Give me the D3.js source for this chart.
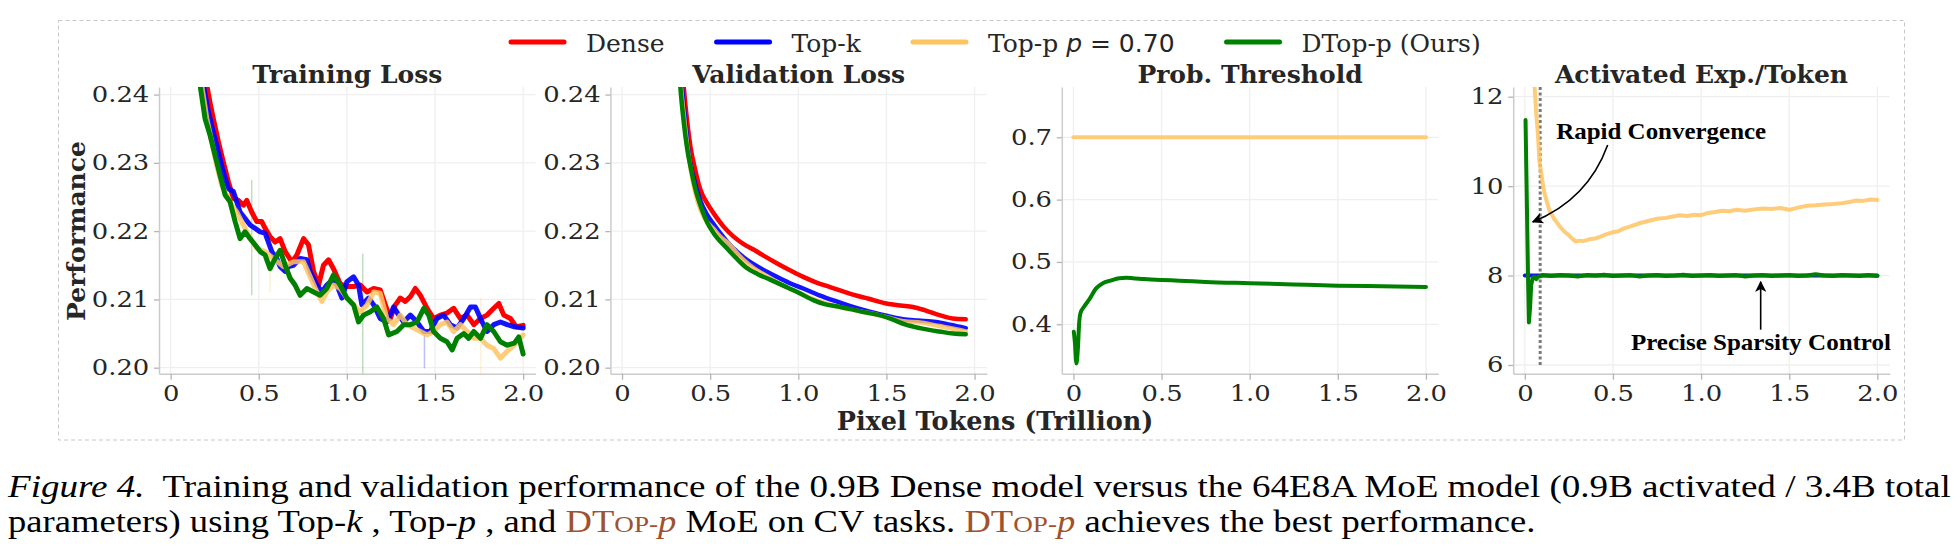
<!DOCTYPE html>
<html>
<head>
<meta charset="utf-8">
<script src="https://cdn.jsdelivr.net/npm/d3@7/dist/d3.min.js"></script>
<style>
  body { margin: 0; background: #fff; }
  svg text { font-family: "DejaVu Serif", serif; fill: #262626; }
  .caption, .caption tspan { font-family: "Liberation Serif", "Times New Roman", serif; }
  .annot { font-family: "Liberation Serif", "Times New Roman", serif; font-weight: bold; }
  .tick text { font-family: "DejaVu Serif", serif; }
</style>
</head>
<body>
<svg id="chart" width="1960" height="552"></svg>
<script>
// ---- data (x in trillion pixel tokens) ----
const xTicks = [0, 0.5, 1.0, 1.5, 2.0];
const lossTicks = [0.20, 0.21, 0.22, 0.23, 0.24];
const threshTicks = [0.4, 0.5, 0.6, 0.7];
const expTicks = [6, 8, 10, 12];
const seriesNames = ["Dense", "Top-k", "Top-p", "DTop-p"];
const panelTitles = ["Training Loss", "Validation Loss", "Prob. Threshold", "Activated Exp./Token"];

const trainDense = [[0.205,0.2414],[0.223,0.2389],[0.242,0.2365],[0.271,0.2331],[0.299,0.2301],[0.328,0.2272],[0.356,0.2248],[0.384,0.2245],[0.413,0.2238],[0.432,0.2245],[0.460,0.2228],[0.489,0.2214],[0.517,0.2214],[0.536,0.2204],[0.564,0.2192],[0.593,0.2184],[0.621,0.2189],[0.650,0.2170],[0.688,0.2155],[0.716,0.2165],[0.754,0.2189],[0.782,0.2180],[0.811,0.2141],[0.839,0.2121],[0.867,0.2150],[0.896,0.2158],[0.924,0.2145],[0.962,0.2123],[1.000,0.2119],[1.038,0.2119],[1.076,0.2121],[1.114,0.2111],[1.152,0.2116],[1.189,0.2114],[1.218,0.2092],[1.246,0.2072],[1.275,0.2092],[1.303,0.2102],[1.331,0.2097],[1.360,0.2104],[1.388,0.2116],[1.417,0.2106],[1.455,0.2087],[1.492,0.2072],[1.530,0.2077],[1.568,0.2080],[1.606,0.2087],[1.644,0.2072],[1.682,0.2077],[1.720,0.2063],[1.758,0.2072],[1.795,0.2077],[1.833,0.2087],[1.862,0.2094],[1.890,0.2077],[1.928,0.2072],[1.960,0.2060],[2.000,0.2062]];
const trainTopK = [[0.186,0.2414],[0.214,0.2375],[0.242,0.2345],[0.271,0.2316],[0.299,0.2287],[0.328,0.2262],[0.356,0.2258],[0.394,0.2228],[0.451,0.2209],[0.508,0.2199],[0.536,0.2197],[0.574,0.2170],[0.602,0.2160],[0.621,0.2148],[0.650,0.2141],[0.669,0.2148],[0.697,0.2150],[0.735,0.2160],[0.773,0.2158],[0.792,0.2141],[0.830,0.2121],[0.858,0.2111],[0.886,0.2121],[0.915,0.2128],[0.943,0.2121],[0.972,0.2102],[1.000,0.2126],[1.038,0.2133],[1.066,0.2121],[1.085,0.2092],[1.123,0.2102],[1.152,0.2092],[1.189,0.2072],[1.227,0.2067],[1.265,0.2089],[1.294,0.2077],[1.322,0.2067],[1.360,0.2077],[1.398,0.2067],[1.436,0.2053],[1.473,0.2053],[1.511,0.2072],[1.549,0.2077],[1.587,0.2063],[1.625,0.2058],[1.663,0.2072],[1.701,0.2089],[1.729,0.2089],[1.758,0.2072],[1.795,0.2053],[1.833,0.2063],[1.871,0.2067],[1.909,0.2063],[1.950,0.2060],[2.000,0.2058]];
const trainTopP = [[0.176,0.2414],[0.205,0.2365],[0.233,0.2331],[0.261,0.2297],[0.290,0.2267],[0.318,0.2253],[0.347,0.2238],[0.375,0.2228],[0.413,0.2209],[0.451,0.2189],[0.489,0.2175],[0.536,0.2170],[0.583,0.2160],[0.640,0.2148],[0.697,0.2155],[0.754,0.2155],[0.792,0.2133],[0.830,0.2111],[0.858,0.2097],[0.886,0.2111],[0.924,0.2121],[0.962,0.2116],[1.000,0.2102],[1.038,0.2092],[1.076,0.2082],[1.114,0.2092],[1.152,0.2111],[1.189,0.2109],[1.227,0.2072],[1.265,0.2063],[1.303,0.2077],[1.341,0.2063],[1.379,0.2058],[1.417,0.2053],[1.455,0.2048],[1.492,0.2053],[1.530,0.2063],[1.568,0.2067],[1.606,0.2053],[1.644,0.2063],[1.682,0.2053],[1.720,0.2043],[1.758,0.2043],[1.795,0.2033],[1.833,0.2028],[1.871,0.2014],[1.909,0.2024],[1.950,0.2033],[2.000,0.2048]];
const trainDTopP = [[0.167,0.2414],[0.195,0.2365],[0.223,0.2341],[0.252,0.2311],[0.280,0.2282],[0.309,0.2253],[0.337,0.2243],[0.366,0.2214],[0.394,0.2189],[0.422,0.2199],[0.451,0.2189],[0.479,0.2180],[0.508,0.2170],[0.536,0.2165],[0.564,0.2145],[0.593,0.2160],[0.621,0.2172],[0.650,0.2150],[0.678,0.2131],[0.706,0.2121],[0.735,0.2106],[0.773,0.2116],[0.811,0.2111],[0.848,0.2106],[0.886,0.2116],[0.924,0.2136],[0.962,0.2121],[1.000,0.2102],[1.038,0.2092],[1.066,0.2067],[1.095,0.2077],[1.133,0.2082],[1.170,0.2089],[1.208,0.2072],[1.237,0.2048],[1.284,0.2053],[1.322,0.2063],[1.360,0.2063],[1.398,0.2067],[1.436,0.2087],[1.464,0.2077],[1.492,0.2053],[1.530,0.2043],[1.568,0.2038],[1.597,0.2026],[1.625,0.2043],[1.663,0.2050],[1.691,0.2043],[1.720,0.2053],[1.758,0.2043],[1.795,0.2063],[1.833,0.2053],[1.871,0.2038],[1.909,0.2033],[1.950,0.2036],[1.975,0.2045],[2.000,0.2020]];
// faint raw spikes: [series, x, low, high]
const trainSpikes = [["DTop-p",0.46,0.2106,0.2275],["Top-p",0.564,0.2111,0.2218],["DTop-p",1.09,0.1989,0.2167],["Top-k",1.44,0.1999,0.2048],["Top-p",1.76,0.1989,0.2102]];

const valDense = [[0.30,0.262],[0.35,0.2411],[0.37,0.236],[0.388,0.2324],[0.415,0.2290],[0.444,0.2261],[0.48,0.2242],[0.52,0.2226],[0.575,0.2207],[0.633,0.2192],[0.69,0.2181],[0.746,0.2173],[0.81,0.2163],[0.878,0.2153],[0.95,0.2143],[1.028,0.2133],[1.10,0.2125],[1.18,0.2118],[1.25,0.2112],[1.31,0.2107],[1.40,0.2101],[1.50,0.2094],[1.58,0.2091],[1.65,0.2089],[1.72,0.2084],[1.80,0.2077],[1.876,0.2072],[1.95,0.2071]];
const valTopK = [[0.30,0.262],[0.34,0.2411],[0.36,0.236],[0.38,0.231],[0.41,0.2275],[0.444,0.2245],[0.48,0.2225],[0.52,0.2210],[0.557,0.2197],[0.63,0.2175],[0.708,0.2158],[0.79,0.2145],[0.878,0.2133],[0.95,0.2124],[1.028,0.2116],[1.12,0.2106],[1.217,0.2097],[1.31,0.2089],[1.405,0.2082],[1.50,0.2076],[1.594,0.2071],[1.68,0.2069],[1.78,0.2067],[1.86,0.2063],[1.95,0.2058]];
const valTopP = [[0.29,0.262],[0.335,0.2411],[0.355,0.236],[0.375,0.2315],[0.40,0.2275],[0.43,0.2242],[0.47,0.2218],[0.52,0.2203],[0.557,0.2192],[0.60,0.2183],[0.68,0.2160],[0.75,0.2145],[0.83,0.2133],[0.90,0.2122],[1.0,0.2110],[1.1,0.2099],[1.2,0.2091],[1.3,0.2085],[1.4,0.2080],[1.5,0.2074],[1.6,0.2068],[1.7,0.2066],[1.8,0.2061],[1.88,0.2057],[1.95,0.2053]];
const valDTopP = [[0.29,0.262],[0.331,0.2411],[0.35,0.236],[0.37,0.232],[0.388,0.2295],[0.42,0.2258],[0.454,0.2231],[0.485,0.2212],[0.52,0.2197],[0.595,0.2175],[0.65,0.2160],[0.708,0.2146],[0.77,0.2137],[0.84,0.2129],[0.934,0.2118],[1.0,0.2110],[1.085,0.2099],[1.15,0.2093],[1.217,0.2090],[1.31,0.2085],[1.38,0.2081],[1.46,0.2077],[1.53,0.2071],[1.61,0.2063],[1.69,0.2058],[1.75,0.2055],[1.80,0.2053],[1.88,0.2050],[1.95,0.2049]];

const threshTopP = [[0.0,0.70],[2.0,0.70]];
const threshDTopP = [[0.002,0.388],[0.008,0.372],[0.017,0.337],[0.025,0.36],[0.032,0.40],[0.04,0.418],[0.06,0.428],[0.09,0.44],[0.13,0.458],[0.167,0.466],[0.21,0.470],[0.26,0.474],[0.30,0.4745],[0.336,0.474],[0.40,0.4725],[0.50,0.471],[0.60,0.470],[0.75,0.468],[1.0,0.466],[1.25,0.464],[1.5,0.462],[1.75,0.461],[2.0,0.460]];

const expTopK = [[0.0,8.0],[2.0,8.0]];
const expTopP = [[0.045,12.6],[0.056,12.2],[0.065,11.6],[0.074,11.18],[0.083,10.55],[0.10,10.1],[0.11,9.87],[0.125,9.65],[0.14,9.45],[0.17,9.25],[0.20,9.09],[0.225,8.98],[0.25,8.90],[0.27,8.82],[0.29,8.76],[0.31,8.78],[0.33,8.77],[0.366,8.81],[0.40,8.83],[0.43,8.87],[0.46,8.92],[0.50,8.97],[0.53,8.99],[0.56,9.05],[0.60,9.10],[0.65,9.17],[0.70,9.22],[0.75,9.27],[0.80,9.29],[0.84,9.32],[0.88,9.35],[0.92,9.33],[0.96,9.36],[1.0,9.35],[1.04,9.40],[1.08,9.42],[1.12,9.45],[1.16,9.44],[1.20,9.47],[1.25,9.45],[1.30,9.48],[1.35,9.50],[1.40,9.49],[1.45,9.51],[1.50,9.47],[1.55,9.52],[1.60,9.56],[1.65,9.57],[1.70,9.59],[1.75,9.60],[1.80,9.62],[1.85,9.65],[1.88,9.68],[1.92,9.67],[1.96,9.70],[2.0,9.69]];
const expDTopP = [[0.004,11.48],[0.012,9.5],[0.018,8.0],[0.023,6.95],[0.03,7.3],[0.036,7.79],[0.045,7.95],[0.055,7.97],[0.065,7.92],[0.075,7.97],[0.09,7.99],[0.10,8.01],[0.15,7.99],[0.20,8.01],[0.25,8.0],[0.30,7.98],[0.35,8.01],[0.40,8.0],[0.45,8.02],[0.50,7.99],[0.55,8.0],[0.60,8.01],[0.65,7.98],[0.70,8.0],[0.75,8.01],[0.80,7.99],[0.85,8.0],[0.90,8.02],[0.95,7.99],[1.0,8.0],[1.05,8.01],[1.10,7.99],[1.15,8.0],[1.20,8.01],[1.25,7.98],[1.30,8.0],[1.35,8.01],[1.40,7.99],[1.45,8.0],[1.50,8.01],[1.55,7.99],[1.60,8.0],[1.65,8.03],[1.70,8.0],[1.75,7.99],[1.80,8.01],[1.85,8.0],[1.90,7.99],[1.95,8.01],[2.0,7.99]];
const convergenceX = 0.087;

// ---- layout ----
const colors = {"Dense": "#ff0000", "Top-k": "#0000ff", "Top-p": "#ffc462", "DTop-p": "#008000"};
const legendLabels = {"Dense": "Dense", "Top-k": "Top-k", "Top-p": "Top-p", "DTop-p": "DTop-p (Ours)"};
const plotTop = 87, plotBottom = 373.7, plotW = 376.5, panelStep = 451.4, firstLeft = 159;
const tickStretch = 1.2;   // tick labels in the figure are drawn wide

const svg = d3.select("#chart");

svg.append("rect")
    .attr("x", 58.5).attr("y", 20.5)
    .attr("width", 1846).attr("height", 419.5)
    .attr("fill", "none")
    .attr("stroke", "#c8c8c8")
    .attr("stroke-width", 1)
    .attr("stroke-dasharray", "4,3");

const defs = svg.append("defs");
defs.append("marker")
    .attr("id", "arrowhead")
    .attr("viewBox", "0 0 10 10")
    .attr("refX", 9).attr("refY", 5)
    .attr("markerWidth", 8).attr("markerHeight", 7)
    .attr("markerUnits", "strokeWidth")
    .attr("orient", "auto")
    .append("path")
    .attr("d", "M0,0 L10,5 L0,10 L2.5,5 Z")
    .attr("fill", "#000");

const panels = [
    {yDomain: [0.19912, 0.24111], yTicks: lossTicks, yFmt: d3.format(".2f"), width: 5, curve: d3.curveLinear,
        series: [["Dense", trainDense], ["Top-k", trainTopK], ["Top-p", trainTopP], ["DTop-p", trainDTopP]]},
    {yDomain: [0.19912, 0.24111], yTicks: lossTicks, yFmt: d3.format(".2f"), width: 4.5, curve: d3.curveMonotoneX,
        series: [["Dense", valDense], ["Top-k", valTopK], ["Top-p", valTopP], ["DTop-p", valDTopP]]},
    {yDomain: [0.3207, 0.7807], yTicks: threshTicks, yFmt: d3.format(".1f"), width: 4, curve: d3.curveMonotoneX,
        series: [["Top-p", threshTopP], ["DTop-p", threshDTopP]]},
    {yDomain: [5.805, 12.217], yTicks: expTicks, yFmt: d3.format("d"), width: 4, curve: d3.curveLinear,
        series: [["Top-k", expTopK], ["Top-p", expTopP], ["DTop-p", expDTopP]]}
];

const xFmt = d => d === 0 ? "0" : d3.format(".1f")(d);
const scales = [];

panels.forEach((p, i) => {
    const left = firstLeft + i * panelStep;
    const x = d3.scaleLinear().domain([-0.066, 2.07]).range([left, left + plotW]);
    const y = d3.scaleLinear().domain(p.yDomain).range([plotBottom, plotTop]);
    scales.push({x, y});
    const g = svg.append("g");

    // grid
    g.selectAll("line.gx").data(xTicks).enter().append("line")
        .attr("x1", d => x(d)).attr("x2", d => x(d))
        .attr("y1", plotTop).attr("y2", plotBottom)
        .attr("stroke", "#efefef").attr("stroke-width", 1.3);
    g.selectAll("line.gy").data(p.yTicks).enter().append("line")
        .attr("x1", left).attr("x2", left + plotW)
        .attr("y1", d => y(d)).attr("y2", d => y(d))
        .attr("stroke", "#efefef").attr("stroke-width", 1.3);

    // axes
    const ax = g.append("g")
        .attr("transform", `translate(0,${plotBottom})`)
        .call(d3.axisBottom(x).tickValues(xTicks).tickFormat(xFmt).tickSize(6).tickSizeOuter(0).tickPadding(6));
    const ay = g.append("g")
        .attr("transform", `translate(${left},0)`)
        .call(d3.axisLeft(y).tickValues(p.yTicks).tickFormat(p.yFmt).tickSize(5).tickSizeOuter(0).tickPadding(4));
    [ax, ay].forEach(a => {
        a.attr("font-family", null).attr("font-size", null);
        a.select(".domain").attr("stroke", "#cccccc").attr("stroke-width", 1.5);
        a.selectAll(".tick line").attr("stroke", "#b5b5b5").attr("stroke-width", 1.3);
        a.selectAll(".tick text")
            .style("font-size", "21.5px")
            .attr("fill", "#262626")
            .attr("transform", `scale(${tickStretch},1)`);
    });
    ay.selectAll(".tick text").attr("x", -9.8 / tickStretch);

    // lines
    const clipId = "clip" + i;
    defs.append("clipPath").attr("id", clipId)
        .append("rect").attr("x", left).attr("y", plotTop).attr("width", plotW).attr("height", plotBottom - plotTop);
    const plot = g.append("g").attr("clip-path", `url(#${clipId})`);

    if (i === 0) {
        plot.selectAll("line.spike").data(trainSpikes).enter().append("line")
            .attr("x1", d => x(d[1])).attr("x2", d => x(d[1]))
            .attr("y1", d => y(d[2])).attr("y2", d => y(d[3]))
            .attr("stroke", d => colors[d[0]])
            .attr("stroke-width", 1.5)
            .attr("opacity", 0.25);
    }
    if (i === 3) {
        plot.append("line")
            .attr("x1", x(convergenceX)).attr("x2", x(convergenceX))
            .attr("y1", y(6)).attr("y2", plotTop)
            .attr("stroke", "#7a7a7a").attr("stroke-width", 3)
            .attr("stroke-dasharray", "3,2.5");
    }

    const line = d3.line().x(d => x(d[0])).y(d => y(d[1])).curve(p.curve);
    p.series.forEach(([name, data]) => {
        plot.append("path")
            .datum(data)
            .attr("d", line)
            .attr("fill", "none")
            .attr("stroke", colors[name])
            .attr("stroke-width", p.width)
            .attr("stroke-linejoin", "round")
            .attr("stroke-linecap", "round")
            .attr("opacity", name === "Top-p" ? 0.85 : (name === "Top-k" ? 0.92 : 1));
    });

    // title
    g.append("text")
        .attr("x", left + plotW / 2).attr("y", 82.5)
        .attr("text-anchor", "middle")
        .style("font-size", "25px").style("font-weight", "bold")
        .text(panelTitles[i]);
});

// y label + x label
svg.append("text")
    .attr("transform", "translate(85,231) rotate(-90)")
    .attr("text-anchor", "middle")
    .style("font-size", "25px").style("font-weight", "bold")
    .text("Performance");
svg.append("text")
    .attr("x", 995).attr("y", 430)
    .attr("text-anchor", "middle")
    .style("font-size", "25.5px").style("font-weight", "bold")
    .text("Pixel Tokens (Trillion)");

// legend
let lx = 511;
seriesNames.forEach(name => {
    svg.append("line")
        .attr("x1", lx).attr("x2", lx + 53)
        .attr("y1", 42).attr("y2", 42)
        .attr("stroke", colors[name]).attr("stroke-width", 5)
        .attr("stroke-linecap", "round");
    const t = svg.append("text").attr("x", lx + 75).attr("y", 51.5).style("font-size", "25px");
    if (name === "Top-p") {
        t.append("tspan").text("Top-p ");
        t.append("tspan").style("font-family", "'DejaVu Sans', sans-serif").style("font-style", "oblique").text("p");
        t.append("tspan").style("font-family", "'DejaVu Sans', sans-serif").text(" = 0.70");
    } else {
        t.text(legendLabels[name]);
    }
    lx = lx + 75 + t.node().getComputedTextLength() + 52;
});

// annotations on the last panel
const {x: ax4, y: ay4} = scales[3];
const annot = (txt, xv, yv, w) => svg.append("text")
    .attr("class", "annot")
    .attr("x", ax4(xv)).attr("y", ay4(yv))
    .attr("textLength", w).attr("lengthAdjust", "spacingAndGlyphs")
    .style("font-size", "23.5px")
    .style("fill", "#000")
    .text(txt);
annot("Rapid Convergence", 0.178, 11.05, 210);
annot("Precise Sparsity Control", 0.602, 6.34, 260);
const p0 = [ax4(0.47), ay4(10.92)], p1 = [ax4(0.045), ay4(9.2)];
svg.append("path")
    .attr("d", `M${p0[0]},${p0[1]} Q${p0[0] - 20},${p1[1] - 22} ${p1[0]},${p1[1]}`)
    .attr("fill", "none").attr("stroke", "#000").attr("stroke-width", 1.6)
    .attr("marker-end", "url(#arrowhead)");
svg.append("line")
    .attr("x1", ax4(1.338)).attr("x2", ax4(1.338))
    .attr("y1", ay4(6.79)).attr("y2", ay4(7.86))
    .attr("stroke", "#000").attr("stroke-width", 1.6)
    .attr("marker-end", "url(#arrowhead)");

// caption, fitted to the width it takes in the figure
const brown = "#a0522d";
const capLine = (y, width) => {
    const t = svg.append("text").attr("class", "caption")
        .attr("xml:space", "preserve")
        .style("fill", "#000").style("font-size", "31px");
    t.fit = () => {
        const sx = width / t.node().getComputedTextLength();
        t.attr("transform", `translate(8,${y}) scale(${sx},1)`);
    };
    return t;
};
const span = (t, txt, opts = {}) => {
    const s = t.append("tspan").text(txt);
    if (opts.italic) s.style("font-style", "italic");
    if (opts.color) s.style("fill", opts.color);
    if (opts.size) s.style("font-size", opts.size);
    return s;
};
const dtop = t => {
    span(t, "DT", {color: brown});
    span(t, "OP-", {color: brown, size: "23px"});
    span(t, "p", {color: brown, italic: true});
};

const l1 = capLine(497, 1944);
span(l1, "Figure 4.", {italic: true});
span(l1, "  Training and validation performance of the 0.9B Dense model versus the 64E8A MoE model (0.9B activated / 3.4B total");
l1.fit();

const l2 = capLine(532, 1528);
span(l2, "parameters) using Top-");
span(l2, "k", {italic: true});
span(l2, " , Top-");
span(l2, "p", {italic: true});
span(l2, " , and ");
dtop(l2);
span(l2, " MoE on CV tasks. ");
dtop(l2);
span(l2, " achieves the best performance.");
l2.fit();
</script>
</body>
</html>
